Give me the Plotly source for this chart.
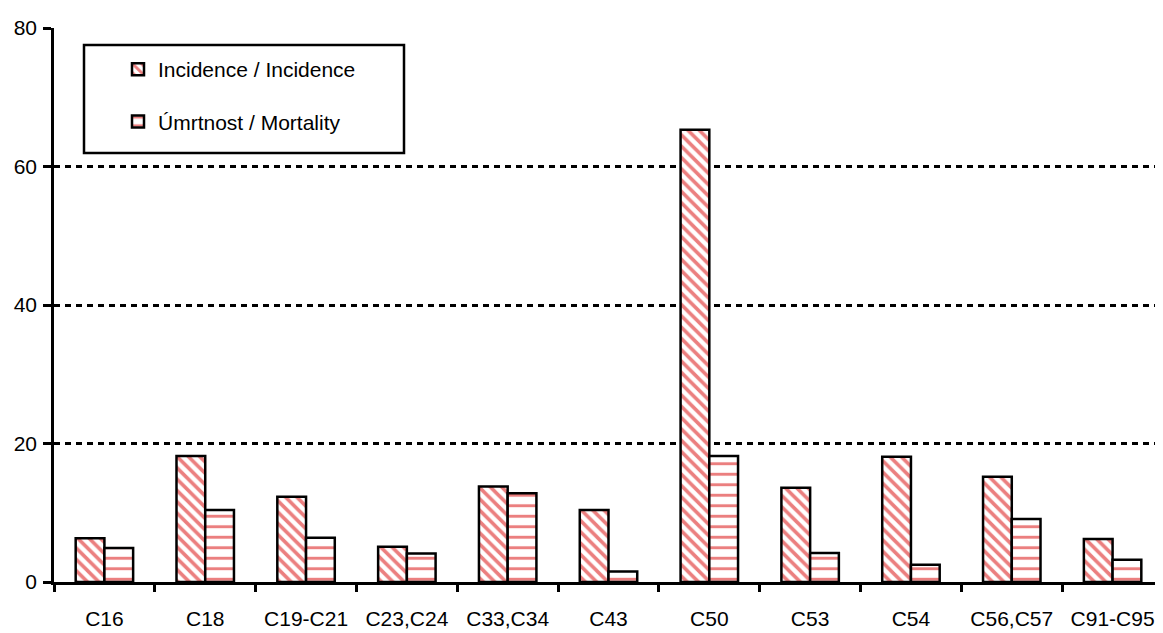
import plotly.graph_objects as go

categories = ["C16", "C18", "C19-C21", "C23,C24", "C33,C34", "C43", "C50", "C53", "C54", "C56,C57", "C91-C95"]
incidence = [6.3, 18.2, 12.3, 5.1, 13.8, 10.4, 65.3, 13.6, 18.1, 15.2, 6.2]
mortality = [4.9, 10.4, 6.4, 4.1, 12.8, 1.5, 18.2, 4.2, 2.5, 9.1, 3.2]
y_ticks = [0, 20, 40, 60, 80]
series_names = ["Incidence / Incidence", "Úmrtnost / Mortality"]

FONT = "Liberation Sans, Arial, sans-serif"
RED = "#D80000"

fig = go.Figure()
fig.add_trace(go.Bar(
    x=categories, y=incidence, name=series_names[0], legendgroup="a",
    marker=dict(color="white", line=dict(color="black", width=2.5),
                pattern=dict(shape="\\", fgcolor=RED, bgcolor="white", size=8, solidity=0.45)),
))
fig.add_trace(go.Bar(
    x=categories, y=mortality, name=series_names[1], legendgroup="b",
    marker=dict(color="white", line=dict(color="black", width=2.5),
                pattern=dict(shape="-", fgcolor=RED, bgcolor="white", size=10.5, solidity=0.28)),
))

# page has an 8px body margin; figure placed so plot area spans x 54..1163, y 28..582
OFF = 8
W, H = 1155, 625
L, R, T, B = 46, 0, 20, 51
pw, ph = W - L - R, H - T - B
X0, Y1 = OFF + L, OFF + H - B

def px_x(x):
    return (x - X0) / pw

def px_y(y):
    return (Y1 - y) / ph

fig.update_layout(
    width=W, height=H,
    margin=dict(l=L, r=R, t=T, b=B, autoexpand=False),
    paper_bgcolor="white", plot_bgcolor="white",
    barmode="group", bargap=0.43, bargroupgap=0.0,
    font=dict(family=FONT, size=21, color="black"),
    showlegend=True,
    legend=dict(
        x=px_x(118), y=px_y(49), xanchor="left", yanchor="top",
        bgcolor="rgba(0,0,0,0)", borderwidth=0,
        font=dict(family=FONT, size=21, color="black"),
        traceorder="grouped", tracegroupgap=22,
        itemwidth=30,
    ),
    xaxis=dict(
        showline=True, linecolor="black", linewidth=2.5,
        ticks="outside", tickson="boundaries", ticklen=7, tickwidth=2.5, tickcolor="black",
        ticklabelstandoff=16, tickangle=0, automargin=False,
        showgrid=False, zeroline=False,
    ),
    yaxis=dict(
        range=[0, 80], tickvals=y_ticks, automargin=False,
        showline=True, linecolor="black", linewidth=2.5,
        ticks="outside", ticklen=8, tickwidth=2.5, tickcolor="black",
        ticklabelstandoff=2,
        showgrid=True, gridcolor="black", gridwidth=2.5, griddash="6px,5px",
        zeroline=False,
    ),
    shapes=[dict(
        type="rect", xref="paper", yref="paper",
        x0=px_x(84), x1=px_x(404), y0=px_y(153), y1=px_y(45),
        line=dict(color="black", width=2.5), fillcolor="white", layer="above",
    )],
)

fig.write_html("out.html")
